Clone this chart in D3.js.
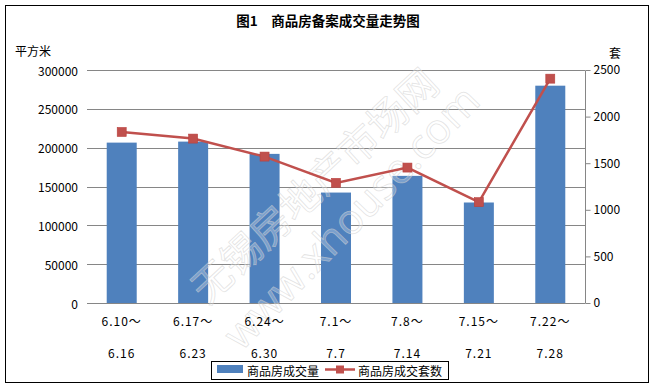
<!DOCTYPE html>
<html>
<head>
<meta charset="utf-8">
<script src="https://cdn.jsdelivr.net/npm/d3@7"></script>
<style>
  body { margin: 0; background: #fff; }
  svg text { font-family: "Noto Sans CJK SC", "Liberation Sans", sans-serif; fill: #000; }
</style>
</head>
<body>
<div id="chart"></div>
<script>
// data
var weekStart = ["6.10～", "6.17～", "6.24～", "7.1～", "7.8～", "7.15～", "7.22～"];
var weekEnd = ["6.16", "6.23", "6.30", "7.7", "7.14", "7.21", "7.28"];
var areaValues = [206500, 207800, 192000, 142200, 163700, 129400, 279800]; // 平方米
var unitValues = [1835, 1764, 1571, 1289, 1453, 1082, 2407];               // 套
var leftTicks = [0, 50000, 100000, 150000, 200000, 250000, 300000];
var rightTicks = [0, 500, 1000, 1500, 2000, 2500];

var svgWidth = 655, svgHeight = 389;
var plotLeft = 86, plotRight = 586, plotTop = 70, plotBottom = 303;

var barColor = "#4F81BD", lineColor = "#C0504D", gridColor = "#868686";

var svg = d3.select("#chart").append("svg")
    .attr("width", svgWidth)
    .attr("height", svgHeight);

// outer frame
svg.append("rect")
    .attr("x", 5.5).attr("y", 5.5)
    .attr("width", 643).attr("height", 377)
    .attr("fill", "#fff").attr("stroke", "#000").attr("stroke-width", 1);

var x = d3.scaleBand()
    .domain(d3.range(weekStart.length))
    .range([plotLeft, plotRight])
    .paddingInner(0.58)
    .paddingOuter(0.29);

var yLeft = d3.scaleLinear().domain([0, 300000]).range([plotBottom, plotTop]);
var yRight = d3.scaleLinear().domain([0, 2500]).range([plotBottom, plotTop]);

// title
svg.append("text")
    .attr("x", 328).attr("y", 20)
    .attr("text-anchor", "middle")
    .attr("dominant-baseline", "central")
    .style("font-size", "13.5px")
    .style("font-weight", "bold")
    .text("图1　商品房备案成交量走势图");

// unit labels
svg.append("text")
    .attr("x", 15).attr("y", 50)
    .attr("dominant-baseline", "central")
    .style("font-size", "12px")
    .text("平方米");
svg.append("text")
    .attr("x", 609).attr("y", 52)
    .attr("dominant-baseline", "central")
    .style("font-size", "12px")
    .text("套");

// gridlines + left axis labels
var grid = svg.append("g");
grid.selectAll("line")
    .data(leftTicks)
    .enter().append("line")
    .attr("x1", plotLeft + 1)
    .attr("x2", plotRight - 1)
    .attr("y1", function(d) { return Math.round(yLeft(d)) + 0.5; })
    .attr("y2", function(d) { return Math.round(yLeft(d)) + 0.5; })
    .attr("stroke", gridColor)
    .attr("stroke-width", 1);

svg.append("g").selectAll("text")
    .data(leftTicks)
    .enter().append("text")
    .attr("x", 78)
    .attr("y", function(d) { return yLeft(d); })
    .attr("text-anchor", "end")
    .attr("dominant-baseline", "central")
    .style("font-size", "12px")
    .text(function(d) { return d; });

// right axis
var rightAxis = svg.append("g")
    .attr("transform", "translate(" + (plotRight - 0.5) + ",0)")
    .call(d3.axisRight(yRight).tickValues(rightTicks).tickFormat(d3.format("d")).tickSize(5).tickPadding(3));
rightAxis.select(".domain").attr("stroke", gridColor).attr("d", "M0," + (plotTop + 0.5) + "V" + (plotBottom + 0.5));
rightAxis.selectAll(".tick line").attr("stroke", gridColor);
rightAxis.selectAll(".tick text")
    .style("font-size", "12px")
    .style("font-family", "'Noto Sans CJK SC', sans-serif")
    .attr("fill", "#000");

// bars
svg.append("g").selectAll("rect")
    .data(areaValues)
    .enter().append("rect")
    .attr("x", function(d, i) { return x(i); })
    .attr("y", function(d) { return yLeft(d); })
    .attr("width", x.bandwidth())
    .attr("height", function(d) { return plotBottom - yLeft(d); })
    .attr("fill", barColor);

// baseline over the bars
svg.append("line")
    .attr("x1", plotLeft + 1).attr("x2", plotRight - 1)
    .attr("y1", plotBottom + 0.5).attr("y2", plotBottom + 0.5)
    .attr("stroke", gridColor);

// watermark
var wm = svg.append("g")
    .attr("fill", "#fff").attr("fill-opacity", 0.25)
    .attr("stroke", "#d0d0d0").attr("stroke-opacity", 0.6).attr("stroke-width", 0.8);
wm.append("text")
    .attr("transform", "translate(313,184) rotate(-43)")
    .attr("text-anchor", "middle")
    .attr("dominant-baseline", "central")
    .style("font-size", "40px")
    .style("fill", "#fff")
    .text("无锡房地产市场网");
wm.append("text")
    .attr("transform", "translate(350,216) rotate(-46)")
    .attr("text-anchor", "middle")
    .attr("dominant-baseline", "central")
    .style("font-family", "'Open Sans', sans-serif")
    .style("font-size", "42px")
    .style("fill", "#fff")
    .text("www.xhouse.com");

// line series
var line = d3.line()
    .x(function(d, i) { return x(i) + x.bandwidth() / 2; })
    .y(function(d) { return yRight(d); });

svg.append("path")
    .datum(unitValues)
    .attr("d", line)
    .attr("fill", "none")
    .attr("stroke", lineColor)
    .attr("stroke-width", 2.5);

svg.append("g").selectAll("rect")
    .data(unitValues)
    .enter().append("rect")
    .attr("x", function(d, i) { return x(i) + x.bandwidth() / 2 - 4.5; })
    .attr("y", function(d) { return yRight(d) - 4.5; })
    .attr("width", 9).attr("height", 9)
    .attr("fill", lineColor)
    .attr("stroke", "#b9413e").attr("stroke-width", 0.6);

// x category labels (two rows)
var xLabels = svg.append("g").style("font-size", "12px").style("letter-spacing", "1px");
xLabels.selectAll("text.start")
    .data(weekStart)
    .enter().append("text")
    .attr("class", "start")
    .attr("x", function(d, i) { return x(i) + x.bandwidth() / 2; })
    .attr("y", 320)
    .attr("text-anchor", "middle")
    .attr("dominant-baseline", "central")
    .text(function(d) { return d; });
xLabels.selectAll("text.end")
    .data(weekEnd)
    .enter().append("text")
    .attr("class", "end")
    .attr("x", function(d, i) { return x(i) + x.bandwidth() / 2; })
    .attr("y", 352)
    .attr("text-anchor", "middle")
    .attr("dominant-baseline", "central")
    .text(function(d) { return d; });

// legend
var legend = svg.append("g");
legend.append("rect")
    .attr("x", 211.5).attr("y", 361.5)
    .attr("width", 237).attr("height", 18)
    .attr("fill", "#fff").attr("stroke", "#000");
legend.append("rect")
    .attr("x", 217).attr("y", 365)
    .attr("width", 26).attr("height", 8)
    .attr("fill", barColor);
legend.append("text")
    .attr("x", 247).attr("y", 370)
    .attr("dominant-baseline", "central")
    .style("font-size", "12px")
    .text("商品房成交量");
legend.append("line")
    .attr("x1", 325).attr("x2", 355)
    .attr("y1", 369.5).attr("y2", 369.5)
    .attr("stroke", lineColor).attr("stroke-width", 2.5);
legend.append("rect")
    .attr("x", 336).attr("y", 365.5)
    .attr("width", 8).attr("height", 8)
    .attr("fill", lineColor);
legend.append("text")
    .attr("x", 358).attr("y", 370)
    .attr("dominant-baseline", "central")
    .style("font-size", "12px")
    .text("商品房成交套数");
</script>
</body>
</html>
